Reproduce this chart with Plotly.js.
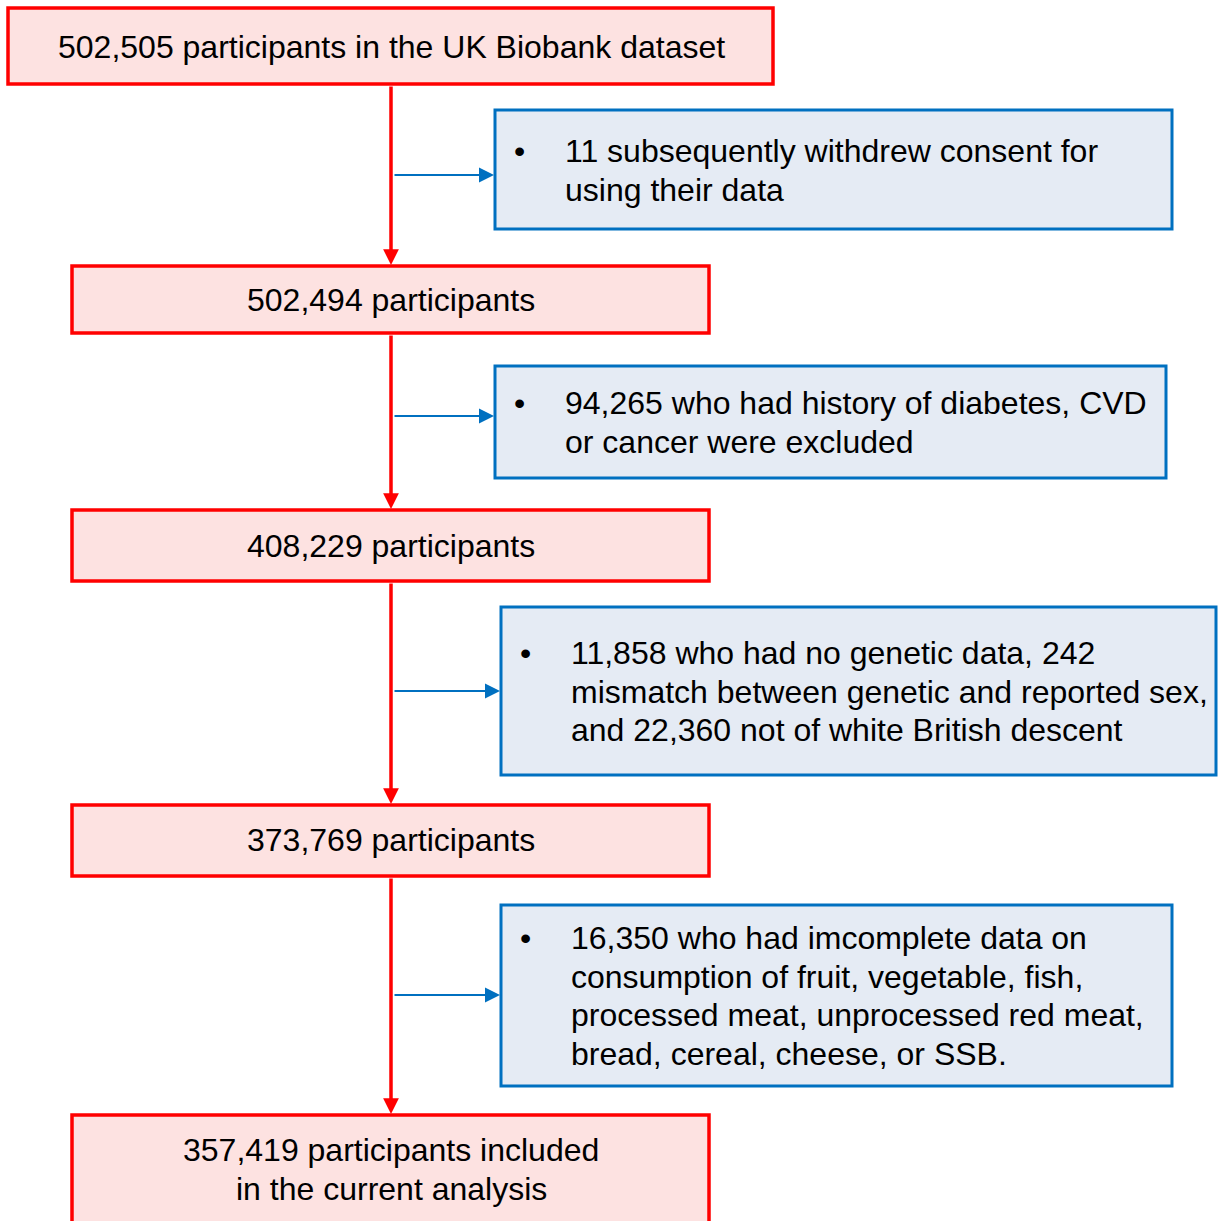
<!DOCTYPE html>
<html>
<head>
<meta charset="utf-8">
<script src="https://cdn.plot.ly/plotly-3.0.1.min.js"></script>
<style>html,body{margin:0;padding:0;background:#fff;}#chart{width:1219px;height:1221px;}</style>
</head>
<body>
<div id="chart"></div>
<script>
// ---- content (data) ----
const stageCounts = ["502,505", "502,494", "408,229", "373,769", "357,419"];
const stageLabels = [
  [stageCounts[0] + " participants in the UK Biobank dataset"],
  [stageCounts[1] + " participants"],
  [stageCounts[2] + " participants"],
  [stageCounts[3] + " participants"],
  [stageCounts[4] + " participants included", "in the current analysis"]
];
const exclusionLabels = [
  ["11 subsequently withdrew consent for", "using their data"],
  ["94,265 who had history of diabetes, CVD", "or cancer were excluded"],
  ["11,858 who had no genetic data, 242", "mismatch between genetic and reported sex,", "and 22,360 not of white British descent"],
  ["16,350 who had imcomplete data on", "consumption of fruit, vegetable, fish,", "processed meat, unprocessed red meat,", "bread, cereal, cheese, or SSB."]
];

// ---- layout geometry (pixels) ----
const stageBoxes = [
  {x0: 8, x1: 773, y0: 8, y1: 84},
  {x0: 72, x1: 709, y0: 266, y1: 333},
  {x0: 72, x1: 709, y0: 510, y1: 581},
  {x0: 72, x1: 709, y0: 805, y1: 876},
  {x0: 72, x1: 709, y0: 1115, y1: 1232}
];
const stageTextTop = [47, 300, 546, 840, 1150];
const exclBoxes = [
  {x0: 495, x1: 1172, y0: 110, y1: 229, arrowY: 175},
  {x0: 495, x1: 1166, y0: 366, y1: 478, arrowY: 416},
  {x0: 501, x1: 1216, y0: 607, y1: 775, arrowY: 691},
  {x0: 501, x1: 1172, y0: 905, y1: 1086, arrowY: 995}
];
const exclTextTop = [151, 403, 653, 938];
const spineX = 391;
const lineH = 38.5;
const FS = 32;

const FONT = "Liberation Sans, Arial, sans-serif";
const RED = "#ff0000", RED_FILL = "#fde2e1";
const BLUE = "#0070c0", BLUE_FILL = "#e5ebf4";

const shapes = [];
const annotations = [];

stageBoxes.forEach((b, i) => {
  shapes.push({type: "rect", xref: "x", yref: "y", x0: b.x0, x1: b.x1, y0: b.y0, y1: b.y1,
    line: {color: RED, width: 3.5}, fillcolor: RED_FILL, layer: "below"});
  stageLabels[i].forEach((t, k) => {
    annotations.push({x: 391, y: stageTextTop[i] + k * lineH, xref: "x", yref: "y",
      text: t, showarrow: false, xanchor: "center", yanchor: "middle", align: "center",
      font: {family: FONT, size: FS, color: "#000"}});
  });
});

exclBoxes.forEach((b, i) => {
  shapes.push({type: "rect", xref: "x", yref: "y", x0: b.x0, x1: b.x1, y0: b.y0, y1: b.y1,
    line: {color: BLUE, width: 3}, fillcolor: BLUE_FILL, layer: "below"});
  exclusionLabels[i].forEach((t, k) => {
    annotations.push({x: b.x0 + 68, y: exclTextTop[i] + k * lineH, xref: "x", yref: "y", text: t,
      showarrow: false, xanchor: "left", yanchor: "middle", align: "left",
      font: {family: FONT, size: FS, color: "#000"}});
  });
  annotations.push({x: b.x0 + 24, y: exclTextTop[i], xref: "x", yref: "y", text: "•",
    showarrow: false, xanchor: "center", yanchor: "middle",
    font: {family: FONT, size: FS, color: "#000"}});
  // blue side arrow
  annotations.push({x: b.x0 - 1, y: b.arrowY, ax: spineX + 2, ay: b.arrowY, xref: "x", yref: "y",
    axref: "x", ayref: "y", text: "", showarrow: true, arrowhead: 2, arrowsize: 1.5, arrowwidth: 2,
    arrowcolor: BLUE, standoff: 0, startstandoff: 0});
});

// red spine arrows
for (let i = 0; i < stageBoxes.length - 1; i++) {
  annotations.push({x: spineX, y: stageBoxes[i + 1].y0 - 1, ax: spineX, ay: stageBoxes[i].y1 + 1,
    xref: "x", yref: "y", axref: "x", ayref: "y", text: "", showarrow: true, arrowhead: 2,
    arrowsize: 0.9, arrowwidth: 3.5, arrowcolor: RED, standoff: 0, startstandoff: 0});
}

const layout = {
  width: 1219, height: 1221,
  margin: {l: 0, r: 0, t: 0, b: 0},
  paper_bgcolor: "#ffffff", plot_bgcolor: "#ffffff",
  xaxis: {range: [0, 1219], visible: false, fixedrange: true},
  yaxis: {range: [1221, 0], visible: false, fixedrange: true},
  showlegend: false,
  shapes: shapes,
  annotations: annotations
};

Plotly.newPlot("chart", [{x: [], y: [], type: "scatter", hoverinfo: "skip"}], layout, {staticPlot: true});
</script>
</body>
</html>
